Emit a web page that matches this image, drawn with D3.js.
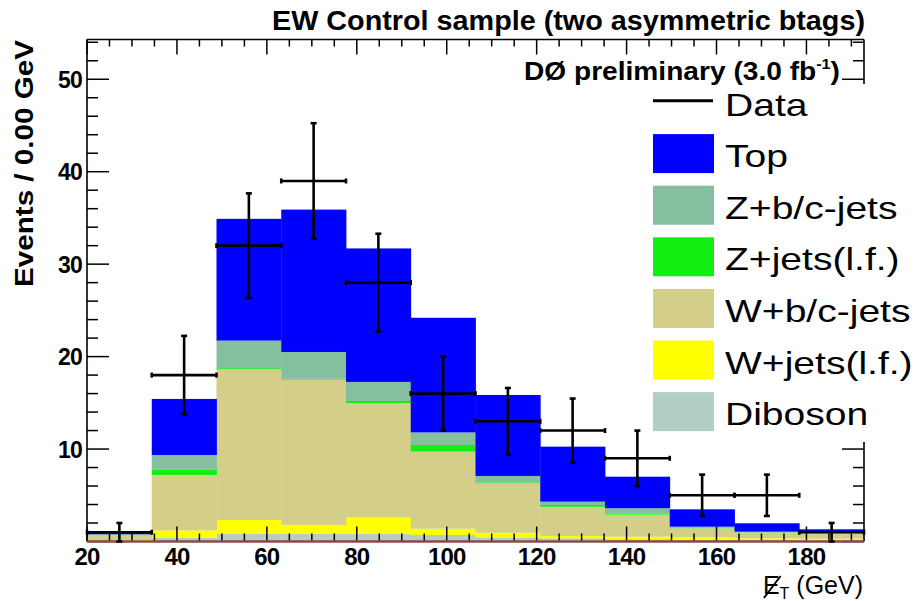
<!DOCTYPE html>
<html>
<head>
<meta charset="utf-8">
<script src="https://cdn.jsdelivr.net/npm/d3@7"></script>
<style>
  html, body { margin: 0; padding: 0; background: #fff; }
  svg { display: block; }
</style>
</head>
<body>
<svg id="chart" width="920" height="601"></svg>
<script>
// Missing-ET distribution, EW control sample with two asymmetric b-tags
const binEdges = [20, 34.4, 48.8, 63.2, 77.6, 92, 106.4, 120.8, 135.2, 149.6, 164, 178.4, 192.8];

// Stack components, listed bottom to top
const seriesNames = ["Diboson", "W+jets(l.f.)", "W+b/c-jets", "Z+jets(l.f.)", "Z+b/c-jets", "Top"];
const diboson   = [0.05, 0.40, 0.85, 0.85, 0.85, 0.70, 0.45, 0.35, 0.25, 0.20, 0.15, 0.12];
const wLight    = [0.10, 0.80, 1.48, 0.94, 1.75, 0.68, 0.50, 0.25, 0.27, 0.25, 0.20, 0.18];
const wHeavy    = [0.55, 6.00, 16.30, 15.71, 12.35, 8.34, 5.35, 3.15, 2.38, 0.98, 0.60, 0.55];
const zLight    = [0.02, 0.60, 0.12, 0.10, 0.25, 0.72, 0.10, 0.20, 0.10, 0.05, 0.03, 0.03];
const zHeavy    = [0.06, 1.56, 2.98, 2.90, 2.06, 1.36, 0.69, 0.36, 0.60, 0.12, 0.08, 0.07];
const topQuark  = [0.28, 6.06, 13.17, 15.40, 14.44, 12.40, 8.76, 5.95, 3.41, 1.88, 0.91, 0.37];

// Observed events per bin
const dataCounts = [1, 18, 32, 39, 28, 16, 13, 12, 9, 5, 5, 1];

// Axis ticks
const xMajorTicks = [20, 40, 60, 80, 100, 120, 140, 160, 180];
const yMajorTicks = [10, 20, 30, 40, 50];

const colors = {
  "Diboson": "#b2cfc6",
  "W+jets(l.f.)": "#ffff00",
  "W+b/c-jets": "#d3cf88",
  "Z+jets(l.f.)": "#11ee11",
  "Z+b/c-jets": "#86bf9f",
  "Top": "#0000ff"
};
const legendOrder = ["Top", "Z+b/c-jets", "Z+jets(l.f.)", "W+b/c-jets", "W+jets(l.f.)", "Diboson"];

const svg = d3.select("#chart");
const L = 87, R = 864, T = 39.5, B = 541.5;

const x = d3.scaleLinear().domain([20, 192.8]).range([L, R]);
const y = d3.scaleLinear().domain([0, 54.3]).range([B, T]);

// Build a table for d3.stack
const seriesArrays = [diboson, wLight, wHeavy, zLight, zHeavy, topQuark];
const table = binEdges.slice(0, -1).map((lo, i) => {
  const row = { lo: lo, hi: binEdges[i + 1] };
  seriesNames.forEach((n, k) => row[n] = seriesArrays[k][i]);
  return row;
});
const stacked = d3.stack().keys(seriesNames)(table);

// Stacked histogram
const gStack = svg.append("g");
stacked.forEach(layer => {
  gStack.append("g")
    .attr("fill", colors[layer.key])
    .selectAll("rect")
    .data(layer)
    .join("rect")
    .attr("x", d => x(d.data.lo))
    .attr("width", d => x(d.data.hi) - x(d.data.lo) + 0.4)
    .attr("y", d => y(d[1]))
    .attr("height", d => Math.max(0, y(d[0]) - y(d[1])));
});

// Frame and ticks
const gAxes = svg.append("g").attr("stroke", "#000").attr("fill", "none");
const xMinor = d3.range(20, 193, 5);
const yMinor = d3.range(0, 54.3, 2);

// bottom & top ticks
xMinor.forEach(v => {
  const major = xMajorTicks.includes(v);
  gAxes.append("line").attr("x1", x(v)).attr("x2", x(v))
    .attr("y1", B).attr("y2", B - (major ? 15 : 8)).attr("stroke-width", 1.5);
  gAxes.append("line").attr("x1", x(v)).attr("x2", x(v))
    .attr("y1", T).attr("y2", T + (major ? 15 : 7)).attr("stroke-width", 1.5);
});
// left & right ticks
yMinor.forEach(v => {
  const major = v % 10 === 0;
  gAxes.append("line").attr("x1", L).attr("x2", L + (major ? 22 : 11))
    .attr("y1", y(v)).attr("y2", y(v)).attr("stroke-width", 1.5);
  gAxes.append("line").attr("x1", R).attr("x2", R - (major ? 22 : 11))
    .attr("y1", y(v)).attr("y2", y(v)).attr("stroke-width", 1.5);
});
gAxes.append("line").attr("x1", L).attr("x2", L).attr("y1", T).attr("y2", B).attr("stroke-width", 1.6);
gAxes.append("line").attr("x1", R).attr("x2", R).attr("y1", T).attr("y2", B).attr("stroke-width", 1.6);
gAxes.append("line").attr("x1", L).attr("x2", R).attr("y1", T).attr("y2", T).attr("stroke-width", 1.6);
gAxes.append("line").attr("x1", L).attr("x2", R).attr("y1", B).attr("y2", B)
  .attr("stroke", "#8e4848").attr("stroke-width", 2.5);

// Data points with Poisson errors
const gData = svg.append("g").attr("stroke", "#000").attr("stroke-width", 2.6).attr("fill", "none");
table.forEach((row, i) => {
  const n = dataCounts[i];
  const e = Math.sqrt(n);
  const xc = x((row.lo + row.hi) / 2);
  const x0 = x(row.lo), x1 = x(row.hi);
  gData.append("line").attr("x1", x0).attr("x2", x1).attr("y1", y(n)).attr("y2", y(n));
  gData.append("line").attr("x1", xc).attr("x2", xc).attr("y1", y(n + e)).attr("y2", y(n - e));
  // end caps
  gData.append("line").attr("x1", xc - 3).attr("x2", xc + 3).attr("y1", y(n + e)).attr("y2", y(n + e));
  gData.append("line").attr("x1", xc - 3).attr("x2", xc + 3).attr("y1", y(n - e)).attr("y2", y(n - e));
  gData.append("line").attr("x1", x0).attr("x2", x0).attr("y1", y(n) - 2.5).attr("y2", y(n) + 2.5);
  gData.append("line").attr("x1", x1).attr("x2", x1).attr("y1", y(n) - 2.5).attr("y2", y(n) + 2.5);
});

// Tick labels
const font = "'Liberation Sans', Arial, Helvetica, sans-serif";
svg.append("g").selectAll("text").data(xMajorTicks).join("text")
  .attr("x", d => x(d)).attr("y", 565)
  .attr("text-anchor", "middle")
  .attr("font-family", font).attr("font-weight", "bold").attr("font-size", 24)
  .attr("letter-spacing", -0.8)
  .text(d => d);
svg.append("g").selectAll("text").data(yMajorTicks).join("text")
  .attr("x", 82).attr("y", d => y(d) + 8.5)
  .attr("text-anchor", "end")
  .attr("font-family", font).attr("font-weight", "bold").attr("font-size", 23)
  .attr("letter-spacing", -0.8)
  .text(d => d);

// Y axis title
svg.append("text")
  .attr("transform", "translate(33,40) rotate(-90)")
  .attr("text-anchor", "end")
  .attr("font-family", font).attr("font-weight", "bold").attr("font-size", 26)
  .attr("textLength", 247).attr("lengthAdjust", "spacingAndGlyphs")
  .text("Events / 0.00 GeV");

// X axis title: missing transverse energy
const xt = svg.append("text")
  .attr("x", 863).attr("y", 594)
  .attr("text-anchor", "end")
  .attr("font-family", font).attr("font-size", 25);
xt.append("tspan").text("E");
xt.append("tspan").attr("dy", 5).attr("font-size", 16).text("T");
xt.append("tspan").attr("dy", -5).text(" (GeV)");
const eBox = xt.node().getExtentOfChar(0);
svg.append("line")
  .attr("x1", eBox.x + 1).attr("y1", eBox.y + eBox.height - 1)
  .attr("x2", eBox.x + eBox.width + 1).attr("y2", eBox.y + 5)
  .attr("stroke", "#000").attr("stroke-width", 2);

// Title
svg.append("text")
  .attr("x", 865).attr("y", 30)
  .attr("text-anchor", "end")
  .attr("font-family", font).attr("font-weight", "bold").attr("font-size", 27)
  .attr("textLength", 593).attr("lengthAdjust", "spacingAndGlyphs")
  .text("EW Control sample (two asymmetric btags)");

// Legend box
const lg = svg.append("g");
lg.append("rect").attr("x", 644).attr("y", 84).attr("width", 276).attr("height", 358).attr("fill", "#fff");

// Experiment label
const dz = svg.append("text")
  .attr("x", 840).attr("y", 80)
  .attr("text-anchor", "end")
  .attr("font-family", font).attr("font-weight", "bold").attr("font-size", 26);
dz.append("tspan").text("DØ preliminary (3.0 fb");
dz.append("tspan").attr("dy", -11).attr("font-size", 15).text("-1");
dz.append("tspan").attr("dy", 11).text(")");
dz.attr("textLength", 316).attr("lengthAdjust", "spacingAndGlyphs");

const rowY = k => 103 + k * 51.6;
lg.append("line").attr("x1", 653).attr("x2", 713).attr("y1", 100.7).attr("y2", 100.7)
  .attr("stroke", "#000").attr("stroke-width", 3);
legendOrder.forEach((name, k) => {
  const cy = rowY(k + 1) - 1;
  lg.append("rect").attr("x", 653).attr("y", cy - 19.5).attr("width", 61).attr("height", 39)
    .attr("fill", colors[name]);
});
["Data"].concat(legendOrder).forEach((name, k) => {
  const t = lg.append("text")
    .attr("x", 725).attr("y", rowY(k) + 12.5)
    .attr("font-family", font).attr("font-size", 32)
    .text(name);
  const w = t.node().getComputedTextLength();
  t.attr("textLength", w * 1.22).attr("lengthAdjust", "spacingAndGlyphs");
});
</script>
</body>
</html>
